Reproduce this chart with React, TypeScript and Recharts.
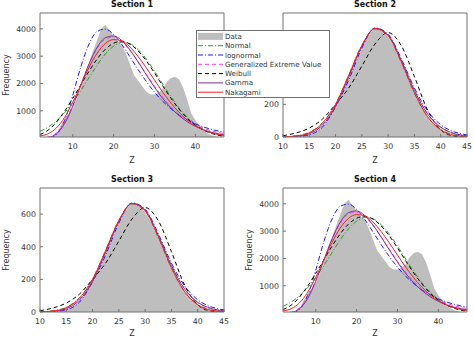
import React from 'react';
import { ComposedChart, Area, Line, XAxis, YAxis } from 'recharts';

// histogram, sections 1 and 4 (bin centre -> count)
const zWide = [2,3,4,5,6,7,8,9,10,11,12,13,14,15,16,17,18,19,20,21,22,23,24,25,26,27,28,29,30,31,32,33,34,35,36,37,38,39,40,41,42,43,44,45,46,47];
const histWide = [0,0,0,20,150,450,700,900,1100,1450,1850,2300,2750,3200,3600,4000,4150,3950,3750,3550,3400,3100,2700,2300,2100,1900,1700,1600,1600,1650,1800,2050,2200,2250,2150,1850,1400,900,650,450,280,170,100,60,30,15];

// fitted curves, sections 1 and 4
const zFitWide = [2,4,6,8,10,12,14,16,18,20,22,24,26,28,30,32,34,36,38,40,42,44,46,47];
const normalWide = [247,403,627,926,1306,1745,2218,2681,3080,3364,3496,3451,3240,2892,2454,1980,1518,1108,768,508,317,189,108,79];
const lognormalWide = [0,6,130,640,1569,2615,3449,3908,3990,3795,3424,2974,2508,2073,1683,1350,1075,846,666,520,406,317,246,218];
const gevWide = [5,40,190,560,1200,1950,2700,3280,3630,3700,3540,3210,2790,2340,1900,1500,1160,880,660,490,360,265,195,170];
const weibullWide = [130,290,579,980,1450,1952,2452,2902,3256,3473,3544,3441,3192,2826,2383,1916,1464,1062,730,476,291,169,92,68];
const gammaWide = [1,22,159,528,1163,1938,2723,3326,3676,3740,3571,3225,2786,2318,1862,1453,1108,825,601,432,305,211,145,120];
const nakagamiWide = [80,160,369,754,1306,1945,2588,3114,3466,3607,3558,3333,2989,2572,2123,1685,1286,944,666,454,298,190,119,95];

// histogram, sections 2 and 3
const zNarrow = [10,11,12,13,14,15,16,17,18,19,20,21,22,23,24,25,26,27,28,29,30,31,32,33,34,35,36,37,38,39,40,41,42,43,44,45];
const histNarrow = [0,0,1,3,8,15,28,50,80,125,185,250,320,400,470,545,610,655,670,650,610,560,490,420,340,270,205,150,105,70,45,28,16,9,5,2];

// fitted curves, sections 2 and 3
const zFitNarrow = [10,12.5,15,17.5,20,22.5,25,27.5,30,32.5,35,37.5,40,42.5,45];
const normalNarrow = [2,8,29,87,203,380,563,662,617,457,268,125,46,14,3];
const lognormalNarrow = [0,2,14,60,185,350,545,668,630,480,300,160,75,32,13];
const gevNarrow = [1,5,22,75,190,370,555,664,622,468,285,140,58,22,8];
const weibullNarrow = [8,25,55,110,200,300,435,570,640,560,370,165,45,6,0];
const gammaNarrow = [0.5,4,20,72,188,368,556,666,625,470,285,142,60,22,7];
const nakagamiNarrow = [1,6,26,84,200,378,560,665,620,462,272,125,44,11,2];

const FONT = '"DejaVu Sans", sans-serif';
const AXIS = '#707070';
const TEXT = '#333333';

const series = [
  { key: 'normal', name: 'Normal', color: '#1fa01f', dash: '5 2 1 2' },
  { key: 'lognormal', name: 'lognormal', color: '#1a1aff', dash: '5 2 1 2' },
  { key: 'gev', name: 'Generalized Extreme Value', color: '#ff3cff', dash: '4 3' },
  { key: 'weibull', name: 'Weibull', color: '#000000', dash: '4 3' },
  { key: 'gamma', name: 'Gamma', color: '#7e2f8e', dash: undefined },
  { key: 'nakagami', name: 'Nakagami', color: '#ff1a1a', dash: undefined },
];

const wideHist = zWide.map((z, i) => ({ z, v: histWide[i] }));
const wideFit = zFitWide.map((z, i) => ({
  z, normal: normalWide[i], lognormal: lognormalWide[i], gev: gevWide[i],
  weibull: weibullWide[i], gamma: gammaWide[i], nakagami: nakagamiWide[i],
}));
const narrowHist = zNarrow.map((z, i) => ({ z, v: histNarrow[i] }));
const narrowFit = zFitNarrow.map((z, i) => ({
  z, normal: normalNarrow[i], lognormal: lognormalNarrow[i], gev: gevNarrow[i],
  weibull: weibullNarrow[i], gamma: gammaNarrow[i], nakagami: nakagamiNarrow[i],
}));

interface PanelProps {
  title: string;
  left: number;
  top: number;
  height: number;
  bottom: number;
  xHeight: number;
  hist: any[];
  fit: any[];
  xDomain: [number, number];
  xTicks: number[];
  yDomain: [number, number];
  yTicks: number[];
}

const W = 232;

function Panel({ title, left, top, height, bottom, xHeight, hist, fit, xDomain, xTicks, yDomain, yTicks }: PanelProps) {
  const tickStyle = { fontSize: 7.8, fill: TEXT, fontFamily: FONT };
  return (
    <div style={{ position: 'absolute', left, top, width: W, height }}>
      <div style={{
        position: 'absolute', left: 40, top: -1, width: 184, textAlign: 'center',
        fontFamily: FONT, fontWeight: 'bold', fontSize: 8, color: '#111', lineHeight: '12px',
      }}>{title}</div>
      <ComposedChart width={W} height={height} data={fit}
        margin={{ top: 12, right: 7, left: 0, bottom }}>
        <XAxis dataKey="z" type="number" domain={xDomain} ticks={xTicks} allowDataOverflow
          height={xHeight} stroke={AXIS} tickSize={-3} tickMargin={9} tick={tickStyle}
          label={{ value: 'Z', position: 'insideBottom', offset: 0, style: { fontSize: 8, fill: TEXT, fontFamily: FONT } }} />
        <XAxis xAxisId="top" orientation="top" dataKey="z" type="number" domain={xDomain} ticks={xTicks}
          allowDataOverflow height={1} stroke={AXIS} tickSize={-3} tick={false} />
        <YAxis type="number" domain={yDomain} ticks={yTicks} allowDataOverflow width={40}
          stroke={AXIS} tickSize={-3} tickMargin={7} tick={tickStyle}
          label={{ value: 'Frequency', angle: -90, position: 'insideLeft', offset: 6,
            style: { textAnchor: 'middle', fontSize: 8, fill: TEXT, fontFamily: FONT } }} />
        <YAxis yAxisId="right" orientation="right" type="number" domain={yDomain} ticks={yTicks}
          allowDataOverflow width={1} stroke={AXIS} tickSize={-3} tick={false} />
        <Area data={hist} dataKey="v" type="linear" fill="#bebebe" fillOpacity={1} stroke="none"
          isAnimationActive={false} />
        {series.map((s) => (
          <Line key={s.key} dataKey={s.key} type="monotone" stroke={s.color} strokeWidth={1}
            strokeDasharray={s.dash} dot={false} activeDot={false} isAnimationActive={false} />
        ))}
        {/* invisible series so the top and right box axes get drawn */}
        <Line xAxisId="top" yAxisId="right" dataKey="normal" stroke="none" dot={false}
          activeDot={false} legendType="none" isAnimationActive={false} />
      </ComposedChart>
    </div>
  );
}

function LegendBox() {
  const rowY = (i: number) => 5.4 + i * 9.3;
  return (
    <div style={{
      position: 'absolute', left: 196, top: 30, width: 134, height: 68, background: '#fff',
      border: `1px solid ${AXIS}`, boxSizing: 'border-box',
    }}>
      <svg width={132} height={66} style={{ position: 'absolute', left: 0, top: 0 }}>
        <rect x={1} y={rowY(0) - 3.5} width={25} height={7} fill="#bebebe" />
        <text x={28} y={rowY(0)} dominantBaseline="central" fontSize={7.1} fill={TEXT} fontFamily={FONT}>Data</text>
        {series.map((s, i) => (
          <g key={s.key}>
            <line x1={1} x2={26} y1={rowY(i + 1)} y2={rowY(i + 1)} stroke={s.color} strokeWidth={1}
              strokeDasharray={s.dash} />
            <text x={28} y={rowY(i + 1)} dominantBaseline="central" fontSize={7.1} fill={TEXT}
              fontFamily={FONT}>{s.name}</text>
          </g>
        ))}
      </svg>
    </div>
  );
}

export default function App() {
  return (
    <div style={{ position: 'absolute', left: 0, top: 0, width: 474, height: 337, overflow: 'hidden', background: '#fff' }}>
      <Panel title="Section 1" left={0} top={0} height={165} bottom={2} xHeight={26} hist={wideHist} fit={wideFit}
        xDomain={[2, 47]} xTicks={[10, 20, 30, 40]} yDomain={[40, 4580]} yTicks={[1000, 2000, 3000, 4000]} />
      <Panel title="Section 2" left={243} top={0} height={165} bottom={2} xHeight={26} hist={narrowHist} fit={narrowFit}
        xDomain={[10, 45]} xTicks={[10, 15, 20, 25, 30, 35, 40, 45]} yDomain={[0, 760]} yTicks={[0, 200, 400, 600]} />
      <Panel title="Section 3" left={0} top={175} height={162} bottom={1} xHeight={24} hist={narrowHist} fit={narrowFit}
        xDomain={[10, 45]} xTicks={[10, 15, 20, 25, 30, 35, 40, 45]} yDomain={[0, 760]} yTicks={[0, 200, 400, 600]} />
      <Panel title="Section 4" left={243} top={175} height={162} bottom={1} xHeight={24} hist={wideHist} fit={wideFit}
        xDomain={[2, 47]} xTicks={[10, 20, 30, 40]} yDomain={[40, 4580]} yTicks={[1000, 2000, 3000, 4000]} />
      <LegendBox />
    </div>
  );
}
